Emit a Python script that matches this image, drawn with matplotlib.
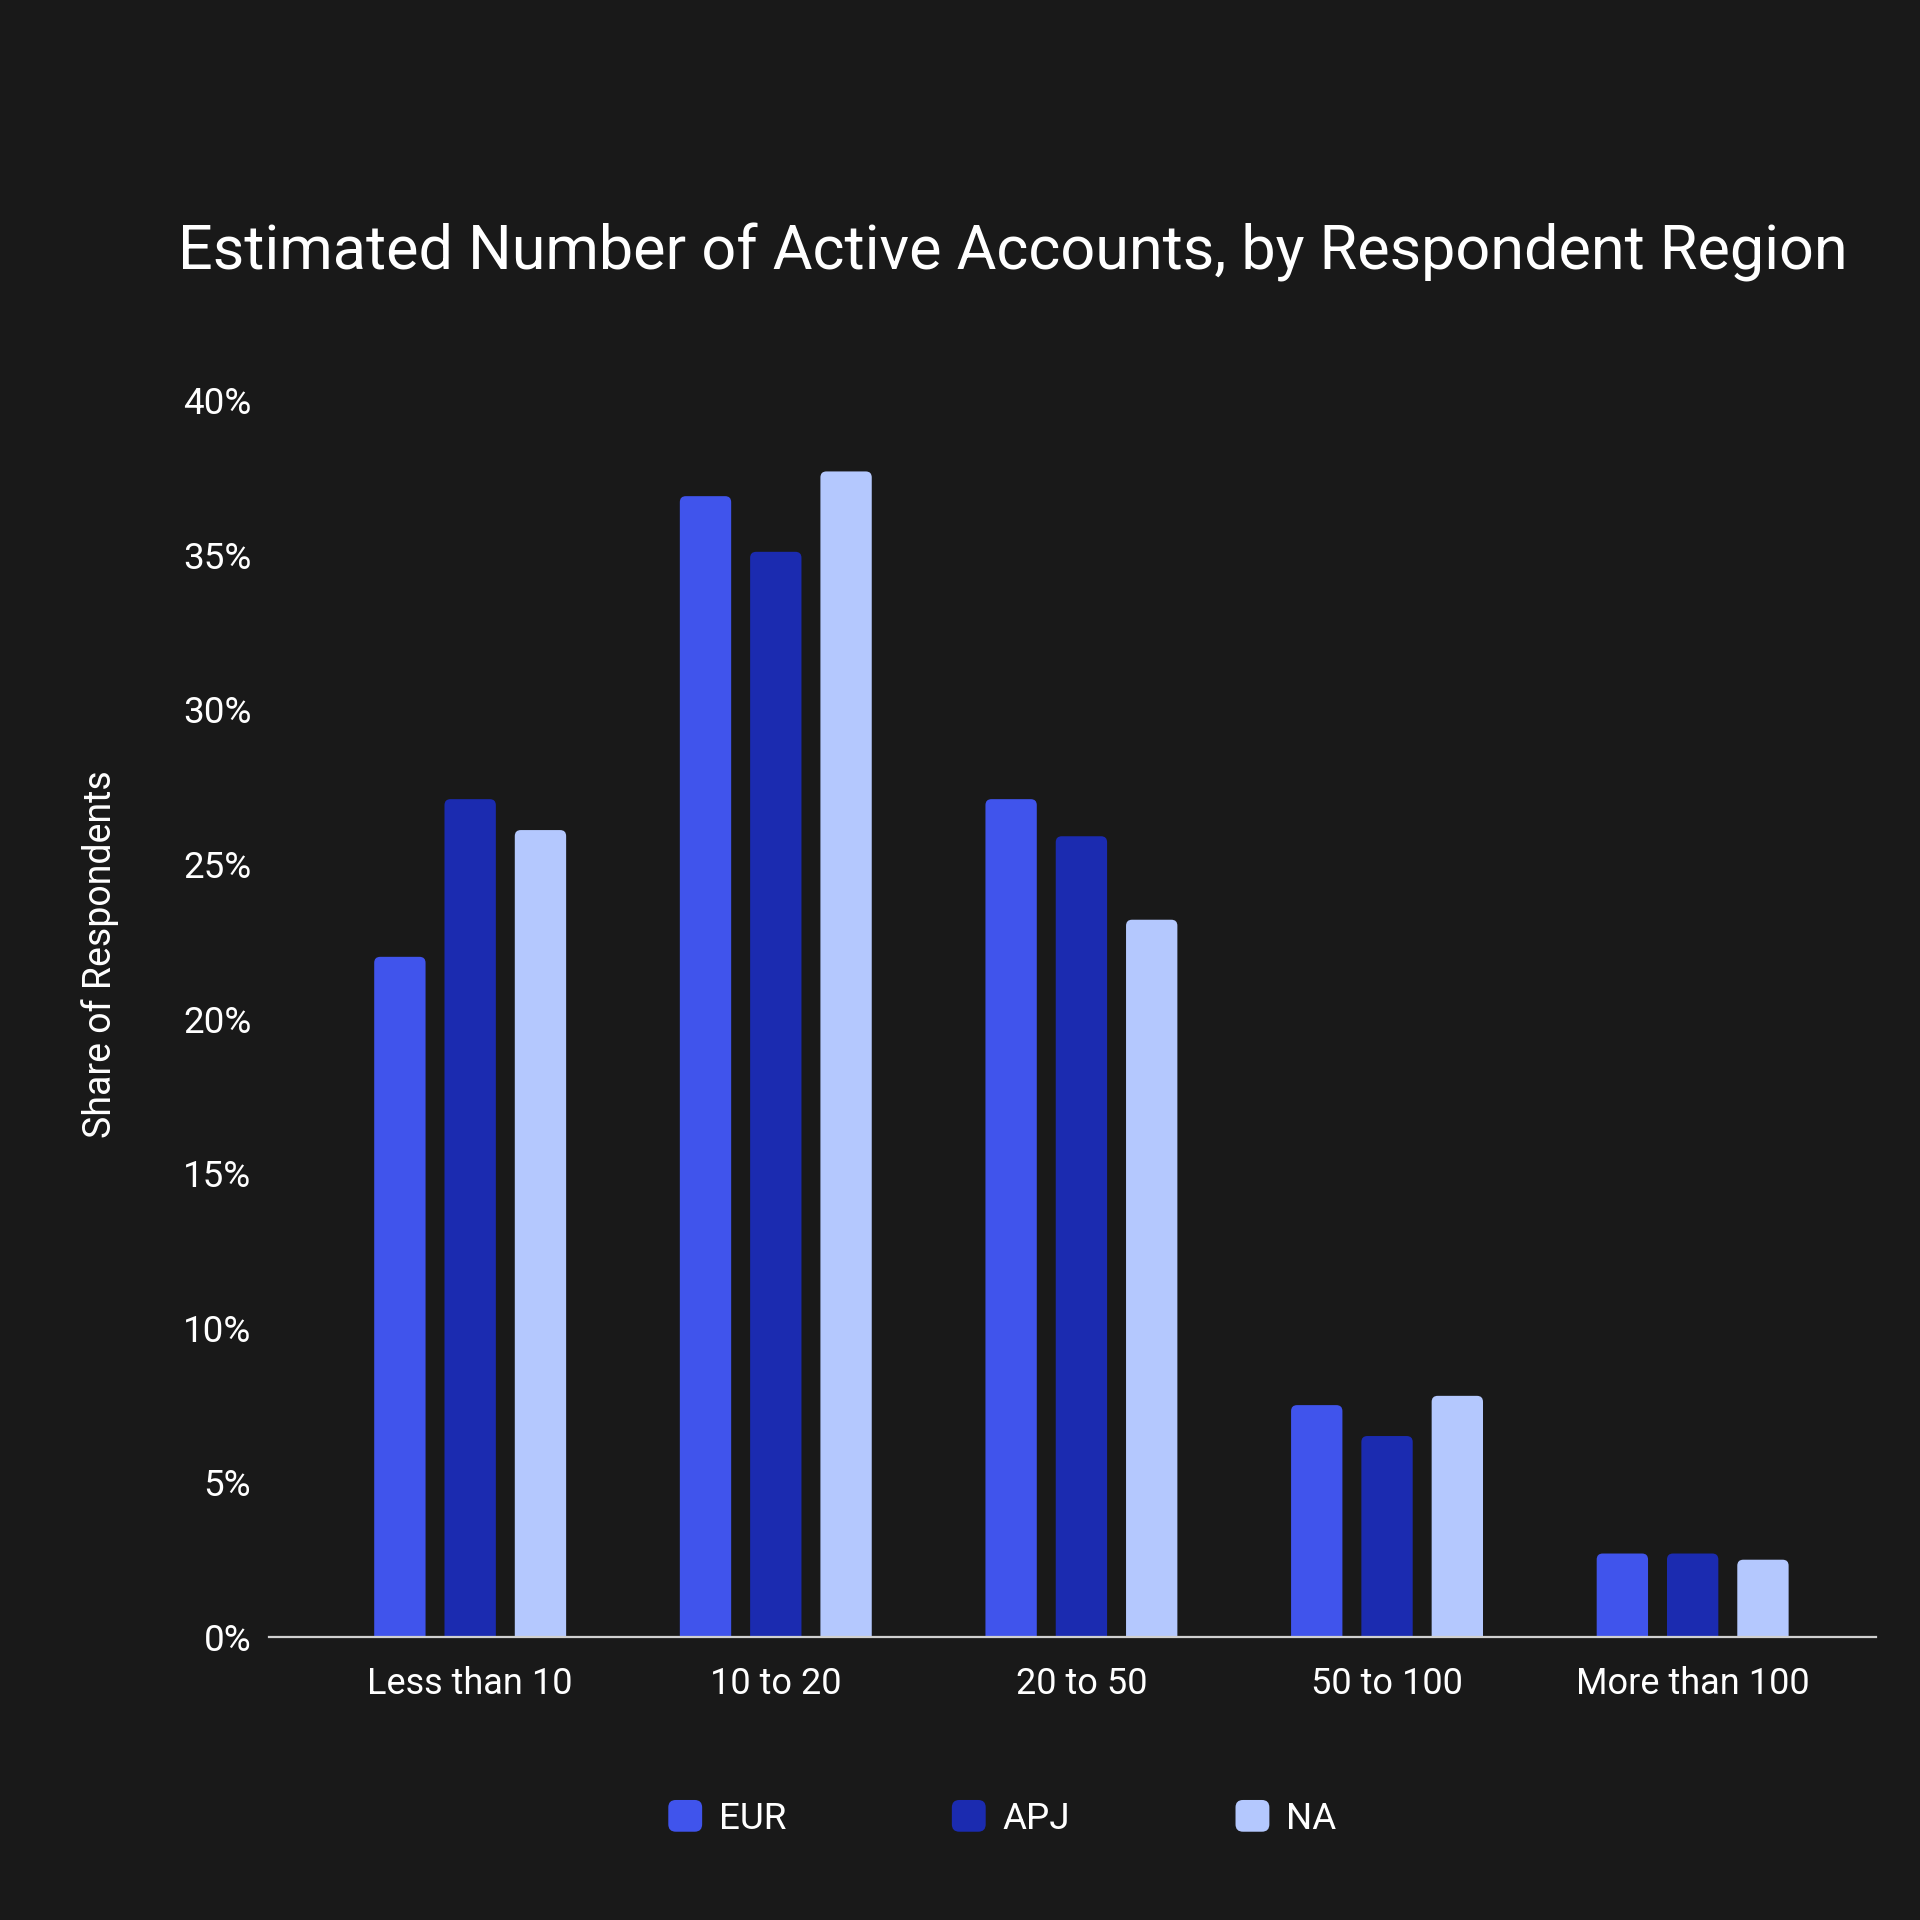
import numpy as np
import matplotlib
matplotlib.use("Agg")
import matplotlib.pyplot as plt
from matplotlib.patches import FancyBboxPatch, Patch
from matplotlib.legend_handler import HandlerPatch

# datos (porcentaje de encuestados)
categorias = ["Less than 10", "10 to 20", "20 to 50", "50 to 100", "More than 100"]
regiones = ["EUR", "APJ", "NA"]
eur = [22.0, 36.9, 27.1, 7.5, 2.7]
apj = [27.1, 35.1, 25.9, 6.5, 2.7]
na = [26.1, 37.7, 23.2, 7.8, 2.5]
yticks = [0, 5, 10, 15, 20, 25, 30, 35, 40]

colores = ["#4054EC", "#1B2BB0", "#B4C8FE"]
fondo = "#191919"
plt.rcParams['font.family'] = ['Roboto', 'DejaVu Sans']


class HandlerRedondo(HandlerPatch):
    # cuadrito de leyenda con esquinas redondeadas
    def create_artists(self, legend, orig_handle, xdescent, ydescent,
                       width, height, fontsize, trans):
        p = FancyBboxPatch((-xdescent, -ydescent), width, height,
                           boxstyle="round,pad=0,rounding_size=%f" % (width * 0.22),
                           facecolor=orig_handle.get_facecolor(), edgecolor="none",
                           transform=trans)
        return [p]


fig = plt.figure(figsize=(19.2, 19.2), dpi=100, facecolor=fondo)
ax = fig.add_axes([0.1403, 0.1474, 0.8368, 0.6441])
ax.set_facecolor(fondo)

x = np.arange(len(categorias))
ancho = 0.168
offsets = [-0.23, 0.0, 0.23]
ax.set_xlim(-0.657, 4.60)
ax.set_ylim(0, 40)

# relacion de aspecto en pixeles para redondear las esquinas de las barras
p0 = ax.transData.transform((0, 0))
p1 = ax.transData.transform((1, 1))
aspecto = (p1[0] - p0[0]) / (p1[1] - p0[1])
radio = 6 / (p1[0] - p0[0])

for serie, color, off in zip([eur, apj, na], colores, offsets):
    barras = ax.bar(x + off, serie, ancho, color=color)
    for b in barras:
        b.set_visible(False)
        caja = FancyBboxPatch((b.get_x(), -1), b.get_width(), b.get_height() + 1,
                              boxstyle="round,pad=0,rounding_size=%f" % radio,
                              mutation_aspect=aspecto, facecolor=color,
                              edgecolor="none", clip_on=True)
        ax.add_patch(caja)

for s in ["top", "right", "left"]:
    ax.spines[s].set_visible(False)
ax.spines["bottom"].set_color("#d0d0d0")
ax.spines["bottom"].set_linewidth(1.6)
ax.spines["bottom"].set_zorder(5)

ax.set_yticks(yticks)
ax.set_yticklabels([f"{v}%" for v in yticks])
ax.set_xticks(x)
ax.set_xticklabels(categorias)
ax.tick_params(axis="y", length=0, pad=13, labelsize=26.5, labelcolor="white")
ax.tick_params(axis="x", length=0, pad=21, labelsize=26, labelcolor="white")

fig.text(0.0925, 0.8686, "Estimated Number of Active Accounts, by Respondent Region",
         color="white", fontsize=44, ha="left", va="center")
fig.text(0.052, 0.503, "Share of Respondents", color="white", fontsize=27,
         rotation=90, ha="center", va="center")

handles = [Patch(facecolor=c, edgecolor="none", label=r) for c, r in zip(colores, regiones)]
leg = fig.legend(handles=handles, loc="center", bbox_to_anchor=(0.522, 0.053), ncol=3,
                 frameon=False, fontsize=26.5, handlelength=0.92, handleheight=0.95,
                 handletextpad=0.45, columnspacing=4.5, labelcolor="white",
                 handler_map={Patch: HandlerRedondo()})

fig.savefig("out.png", dpi=100, facecolor=fondo)
